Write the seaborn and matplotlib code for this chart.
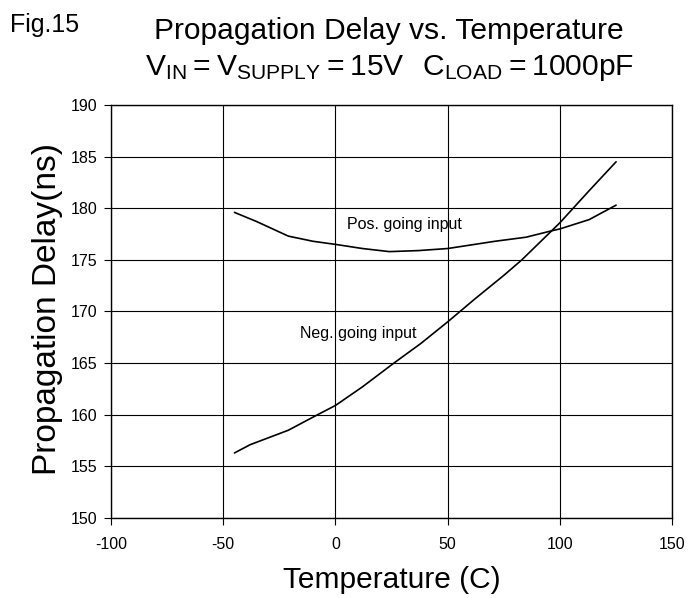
import numpy as np
import pandas as pd
import seaborn as sns
import matplotlib.pyplot as plt

# values
temp_pos = [-45, -35, -21, -10, 0, 12, 24, 37, 50, 62, 71, 85, 96, 100, 113, 125]
delay_pos = [179.6, 178.7, 177.3, 176.8, 176.5, 176.1, 175.8, 175.9, 176.1, 176.5, 176.8, 177.2, 177.8, 178.0, 178.9, 180.3]

temp_neg = [-45, -38, -21, -8, 0, 12, 26, 38, 50, 62, 75, 83, 100, 113, 125]
delay_neg = [156.3, 157.1, 158.5, 160.0, 160.9, 162.7, 165.0, 166.9, 169.0, 171.2, 173.5, 175.0, 178.6, 181.7, 184.5]

x_ticks = [-100, -50, 0, 50, 100, 150]
y_ticks = [150, 155, 160, 165, 170, 175, 180, 185, 190]

pos = pd.DataFrame({'temp': temp_pos, 'delay': delay_pos, 'input': 'Pos. going input'})
neg = pd.DataFrame({'temp': temp_neg, 'delay': delay_neg, 'input': 'Neg. going input'})
curves = pd.concat([pos, neg], ignore_index = True)

sns.set_style('ticks')
plt.rcParams['font.family'] = ['Liberation Sans', 'DejaVu Sans']
plt.rcParams['mathtext.fontset'] = 'custom'
plt.rcParams['mathtext.rm'] = 'Liberation Sans'
plt.rcParams['axes.unicode_minus'] = False
for k in ['text.color', 'axes.labelcolor', 'xtick.color', 'ytick.color']:
    plt.rcParams[k] = 'black'

fig = plt.figure(figsize = (6.92, 5.98), dpi = 100)
ax = fig.add_axes([0.1604, 0.1338, 0.811, 0.6906])

sns.lineplot(
    x = 'temp',
    y = 'delay',
    data = curves,
    units = 'input',
    estimator = None,
    sort = False,
    color = 'black',
    linewidth = 1.2,
    ax = ax
)

ax.set_xlim(-100, 150)
ax.set_ylim(150, 190)
ax.set_xticks(x_ticks)
ax.set_yticks(y_ticks)
ax.grid(True, color = 'black', linewidth = 0.8)
ax.set_axisbelow(True)
for s in ax.spines.values():
    s.set_color('black')
    s.set_linewidth(1.0)
ax.tick_params(axis = 'both', labelsize = 11.5, length = 5, width = 0.8)
ax.tick_params(axis = 'x', pad = 9)
ax.tick_params(axis = 'y', pad = 5)

ax.set_xlabel('Temperature (C)', fontsize = 21.5, va = 'baseline')
ax.xaxis.set_label_coords(0.501, -0.170)
ax.set_ylabel('Propagation Delay(ns)', fontsize = 24, va = 'center')
ax.yaxis.set_label_coords(-0.113, 0.507)

ax.text(5.2, 178.4, 'Pos. going input', fontsize = 11.5, va = 'center', ha = 'left')
ax.text(-15.8, 167.9, 'Neg. going input', fontsize = 11.5, va = 'center', ha = 'left')

fig.text(0.0145, 0.9465, 'Fig.15', fontsize = 18, va = 'baseline', ha = 'left')
fig.text(0.562, 0.9356, 'Propagation Delay vs. Temperature', fontsize = 21.6, va = 'baseline', ha = 'center')
fig.text(0.563, 0.8754, r'$\mathregular{V_{IN} = V_{SUPPLY} = 15V\ \ C_{LOAD} = 1000pF}$',
         fontsize = 21.6, va = 'baseline', ha = 'center')

fig.savefig('out.png', dpi = 100)
